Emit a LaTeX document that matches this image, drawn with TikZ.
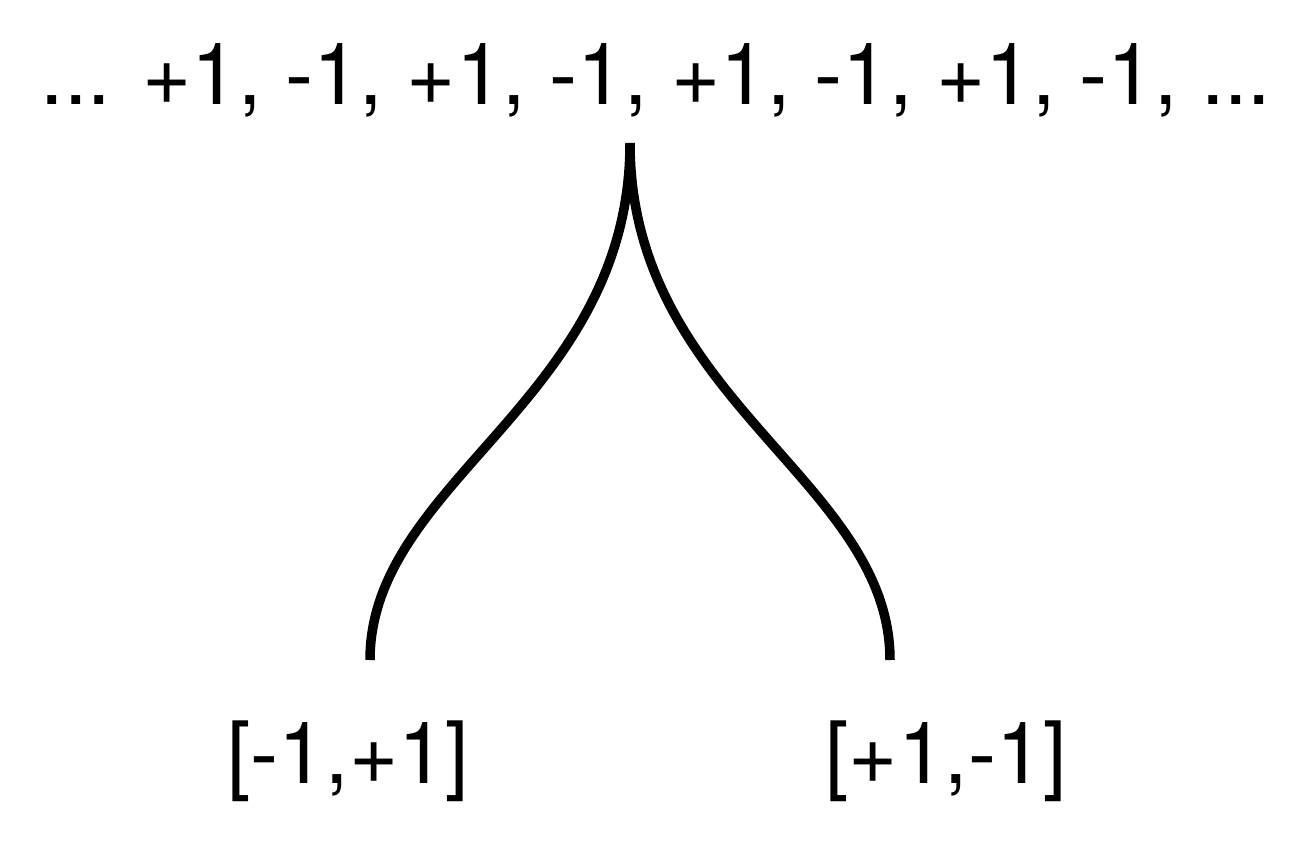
\documentclass[tikz,border=0pt]{standalone}
\usepackage{fontspec}
\setmainfont{TeX Gyre Heros}
\newcommand{\narrowtext}[1]{\scalebox{0.98}[1]{#1}}
\begin{document}
\begin{tikzpicture}[x=1pt,y=-1pt,
  big/.style={inner sep=0pt, anchor=base, font=\fontsize{86}{100}\selectfont},
  link/.style={line width=9.5pt}]
\useasboundingbox (0,0) rectangle (1316,840);
\node[big] (seq) at (656,105) {\narrowtext{... +1, -1, +1, -1, +1, -1, +1, -1, ...}};
\coordinate (top) at (630,143);
\coordinate (lend) at (370,660);
\coordinate (rend) at (890,660);
\node[big] (left) at (348,783) {\narrowtext{[-1,+1]}};
\node[big] (right) at (946,783) {\narrowtext{[+1,-1]}};
\draw[link] (top) .. controls (630,400) and (370,480) .. (lend);
\draw[link] (top) .. controls (630,400) and (890,480) .. (rend);
\end{tikzpicture}
\end{document}
